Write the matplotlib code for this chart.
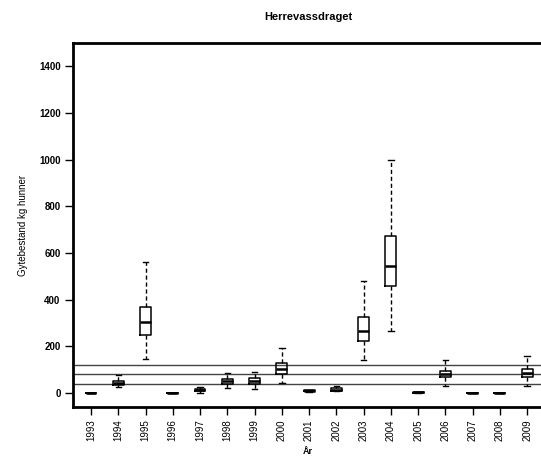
import matplotlib
matplotlib.use('Agg')
import matplotlib.pyplot as plt
import numpy as np

plt.rcParams['font.family'] = ['Liberation Sans', 'DejaVu Sans']

# values (kg hunner)
years = [1993, 1994, 1995, 1996, 1997, 1998, 1999, 2000, 2001,
         2002, 2003, 2004, 2005, 2006, 2007, 2008, 2009]
whis_lo = [0, 27, 146, 0, 2, 20, 16, 41, 5, 7, 141, 265, 1, 29, 0, 0, 29]
q1      = [0, 34, 248, 0, 8, 37, 38, 81, 7, 10, 225, 457, 2, 67, 0, 0, 68]
med     = [1, 44, 304, 1, 12, 50, 50, 101, 9, 15, 265, 544, 3, 81, 0, 0, 84]
q3      = [2, 53, 370, 2, 16, 58, 65, 127, 12, 20, 326, 673, 5, 95, 1, 1, 105]
whis_hi = [2, 77, 561, 2, 24, 87, 91, 194, 14, 28, 481, 1000, 5, 140, 1, 1, 158]

ref_lines = [40, 80, 120]

stats = []
for i in range(len(years)):
    stats.append(dict(whislo=whis_lo[i], q1=q1[i], med=med[i], q3=q3[i],
                      whishi=whis_hi[i], fliers=[], label=str(years[i])))

fig = plt.figure(figsize=(5.41, 4.59), dpi=100)
# axes run off the right edge like in the original
ax = fig.add_axes([73/541, 52/459, 486/541, 364/459])

for v in ref_lines:
    ax.axhline(v, color='#444444', lw=1.0, zorder=1)

pos = np.arange(1, len(years) + 1)
ax.bxp(stats, positions=pos, widths=0.4, showfliers=False,
       boxprops=dict(color='black', lw=1.1),
       medianprops=dict(color='black', lw=1.8),
       whiskerprops=dict(color='black', lw=1.0, ls=(0, (3, 2))),
       capprops=dict(color='black', lw=1.0),
       capwidths=0.2)

ax.set_xlim(0.34, 18.17)
ax.set_ylim(-60, 1500)
ax.set_yticks(range(0, 1401, 200))
ax.set_yticklabels([str(v) for v in range(0, 1401, 200)], fontsize=7, fontweight='bold')
ax.set_xticks(pos)
ax.set_xticklabels([str(y) for y in years], rotation=90, fontsize=7)
ax.tick_params(axis='both', length=6, width=1, pad=3)

for s in ['top', 'left', 'bottom']:
    ax.spines[s].set_linewidth(2)
ax.spines['right'].set_visible(False)

ax.set_ylabel('Gytebestand kg hunner', fontsize=7, labelpad=8)
fig.text(308/541, 1 - 452/459, 'År', fontsize=6.5, fontweight='bold', ha='center', va='center')
fig.text(308/541, 1 - 17/459, 'Herrevassdraget', fontsize=8, fontweight='bold', ha='center', va='center')

fig.savefig('out.png', dpi=100)
